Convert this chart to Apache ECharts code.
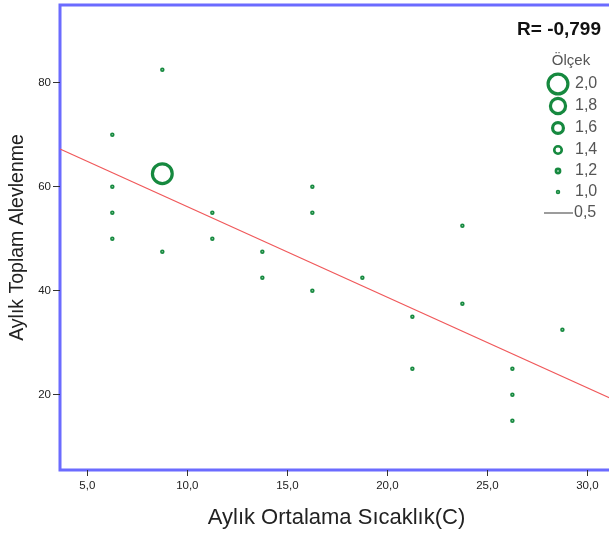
<!DOCTYPE html>
<html>
<head>
<meta charset="utf-8">
<script src="https://cdn.jsdelivr.net/npm/echarts@6/dist/echarts.min.js"></script>
<style>
  html, body { margin: 0; padding: 0; background: #fff; }
  #chart1 { width: 609px; height: 533px; }
</style>
</head>
<body>
<div id="chart1"></div>
<script>
// x = Aylık Ortalama Sıcaklık, y = Aylık Toplam Alevlenme, w = Ölçek (nokta büyüklüğü)
var xData = [6.25, 6.25, 6.25, 6.25, 8.75, 8.75, 8.75, 11.25, 11.25, 13.75, 13.75,
             16.25, 16.25, 16.25, 18.75, 21.25, 21.25, 23.75, 23.75, 26.25, 26.25, 26.25, 28.75];
var yData = [70, 60, 55, 50, 82.5, 62.5, 47.5, 55, 50, 47.5, 42.5,
             60, 55, 40, 42.5, 35, 25, 52.5, 37.5, 25, 20, 15, 32.5];
var wData = [1, 1, 1, 1, 1, 2, 1, 1, 1, 1, 1,
             1, 1, 1, 1, 1, 1, 1, 1, 1, 1, 1, 1];

var xTicks = [5, 10, 15, 20, 25, 30];
var yTicks = [20, 40, 60, 80];

var legendVals = [2.0, 1.8, 1.6, 1.4, 1.2, 1.0];
var legendLineLabel = '0,5';
var rText = 'R= -0,799';

// fit line: y = a + b*x
var fitA = 73.57;
var fitB = -1.742;

var xMin = 3.635, xMax = 31.28;
var yMin = 5.52, yMax = 94.94;

var FONT = 'Liberation Sans, Arial, sans-serif';
var green = '#16893f';

// outer diameter of a ring for a given Ölçek value
function symSize(w) {
    return 4.5 + 18.5 * Math.pow(w - 1, 1.3);
}
function ringWidth(w) {
    if (w >= 1.5) return 3.2;
    if (w > 1.1) return 2.6;
    return 1.6;
}
function ringFill(w) {
    return w > 1.1 ? '#fff' : '#8fcca4';
}
function comma(v, d) {
    return v.toFixed(d).replace('.', ',');
}

var points = [];
for (var i = 0; i < xData.length; i++) {
    points.push({
        value: [xData[i], yData[i], wData[i]],
        symbolSize: symSize(wData[i]) - ringWidth(wData[i]),
        itemStyle: { borderWidth: ringWidth(wData[i]), color: ringFill(wData[i]) }
    });
}

var fitLine = [[xMin, fitA + fitB * xMin], [xMax, fitA + fitB * xMax]];

// Ölçek legend drawn as graphic
var legendItems = [];
var legendY = [84, 106, 128, 150, 171, 192];
legendItems.push({
    type: 'text', x: 601, y: 30,
    style: { text: rText, font: 'bold 19px ' + FONT, fill: '#111', textAlign: 'right', verticalAlign: 'middle' }
});
legendItems.push({
    type: 'text', x: 571, y: 61,
    style: { text: 'Ölçek', font: '15px ' + FONT, fill: '#555', textAlign: 'center', verticalAlign: 'middle' }
});
for (var j = 0; j < legendVals.length; j++) {
    var lw = ringWidth(legendVals[j]);
    legendItems.push({
        type: 'circle',
        shape: { cx: 558, cy: legendY[j], r: (symSize(legendVals[j]) - lw) / 2 },
        style: { fill: ringFill(legendVals[j]), stroke: green, lineWidth: lw }
    });
    legendItems.push({
        type: 'text', x: 575, y: legendY[j],
        style: { text: comma(legendVals[j], 1), font: '16px ' + FONT, fill: '#555', verticalAlign: 'middle' }
    });
}
legendItems.push({
    type: 'line',
    shape: { x1: 544, y1: 213, x2: 573, y2: 213 },
    style: { stroke: '#666', lineWidth: 1.3 }
});
legendItems.push({
    type: 'text', x: 574, y: 213,
    style: { text: legendLineLabel, font: '16px ' + FONT, fill: '#555', verticalAlign: 'middle' }
});

var myChart = echarts.init(document.getElementById('chart1'));
var option = {
    animation: false,
    backgroundColor: '#fff',
    grid: {
        left: 60, top: 5, width: 553, height: 465,
        outerBoundsMode: 'none',
        containLabel: false,
        show: true, borderColor: '#6b6bff', borderWidth: 3
    },
    xAxis: {
        type: 'value', min: xMin, max: xMax,
        name: 'Aylık Ortalama Sıcaklık(C)',
        nameLocation: 'middle', nameGap: 37,
        nameTextStyle: { fontSize: 22, color: '#222', fontFamily: FONT },
        splitLine: { show: false },
        axisLine: { show: false },
        axisTick: { show: true, length: 6, lineStyle: { color: '#333' }, customValues: xTicks },
        axisLabel: {
            fontSize: 11.5, color: '#222', fontFamily: FONT, margin: 10,
            customValues: xTicks,
            formatter: function (v) { return comma(v, 1); }
        }
    },
    yAxis: {
        type: 'value', min: yMin, max: yMax,
        name: 'Aylık Toplam Alevlenme',
        nameLocation: 'middle', nameGap: 28,
        nameTextStyle: { fontSize: 19.5, color: '#222', fontFamily: FONT },
        splitLine: { show: false },
        axisLine: { show: false },
        axisTick: { show: true, length: 7, lineStyle: { color: '#333' }, customValues: yTicks },
        axisLabel: {
            fontSize: 11.5, color: '#222', fontFamily: FONT, margin: 9,
            customValues: yTicks
        }
    },
    series: [
        {
            name: 'fit',
            type: 'line',
            data: fitLine,
            symbol: 'none',
            lineStyle: { color: '#f0585a', width: 1.2 },
            z: 1
        },
        {
            name: 'points',
            type: 'scatter',
            symbol: 'circle',
            data: points,
            itemStyle: { borderColor: green, opacity: 1 },
            z: 3
        }
    ],
    graphic: legendItems
};
myChart.setOption(option);
</script>
</body>
</html>
